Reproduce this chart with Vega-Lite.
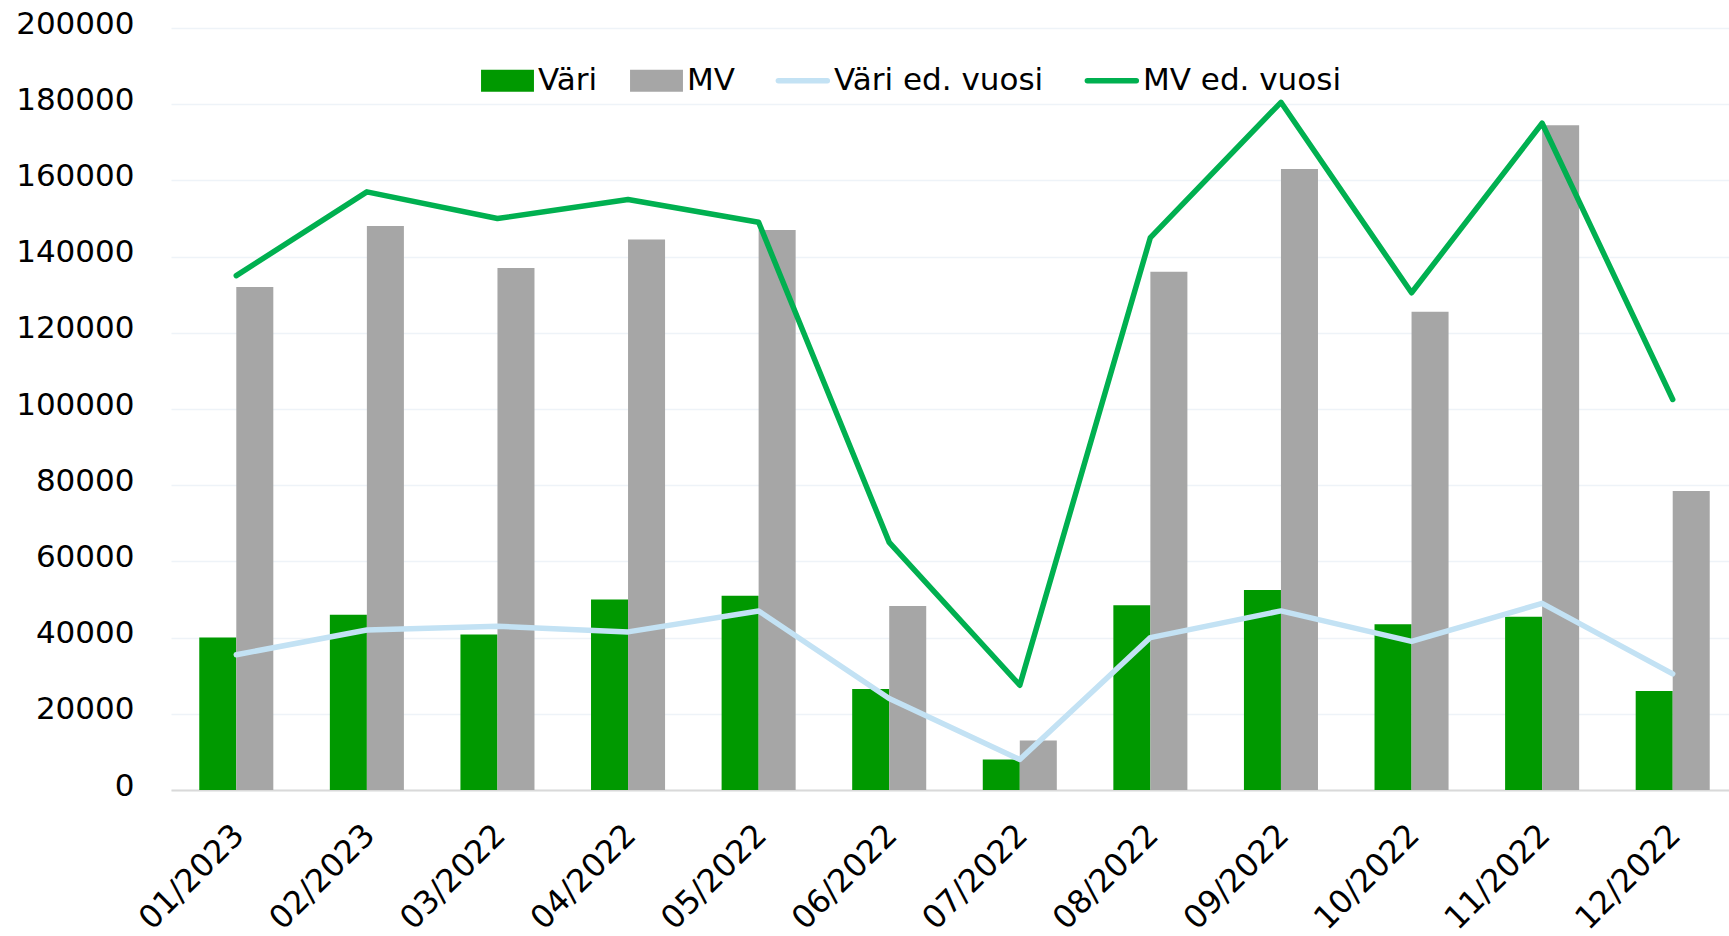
{
  "$schema": "https://vega.github.io/schema/vega-lite/v6.json",
  "autosize": {"type": "none"},
  "width": 1558,
  "height": 762,
  "padding": {"left": 171, "top": 28, "right": 0, "bottom": 146},
  "background": "white",
  "config": {"font": "DejaVu Sans", "view": {"stroke": null}},
  "data": {"values": [
    {"month": "01/2023", "series": "Väri", "value": 40000},
    {"month": "02/2023", "series": "Väri", "value": 46000},
    {"month": "03/2022", "series": "Väri", "value": 40800},
    {"month": "04/2022", "series": "Väri", "value": 50000},
    {"month": "05/2022", "series": "Väri", "value": 51000},
    {"month": "06/2022", "series": "Väri", "value": 26500},
    {"month": "07/2022", "series": "Väri", "value": 8000},
    {"month": "08/2022", "series": "Väri", "value": 48500},
    {"month": "09/2022", "series": "Väri", "value": 52500},
    {"month": "10/2022", "series": "Väri", "value": 43500},
    {"month": "11/2022", "series": "Väri", "value": 45500},
    {"month": "12/2022", "series": "Väri", "value": 26000},
    {"month": "01/2023", "series": "MV", "value": 132000},
    {"month": "02/2023", "series": "MV", "value": 148000},
    {"month": "03/2022", "series": "MV", "value": 137000},
    {"month": "04/2022", "series": "MV", "value": 144500},
    {"month": "05/2022", "series": "MV", "value": 147000},
    {"month": "06/2022", "series": "MV", "value": 48300},
    {"month": "07/2022", "series": "MV", "value": 13000},
    {"month": "08/2022", "series": "MV", "value": 136000},
    {"month": "09/2022", "series": "MV", "value": 163000},
    {"month": "10/2022", "series": "MV", "value": 125500},
    {"month": "11/2022", "series": "MV", "value": 174500},
    {"month": "12/2022", "series": "MV", "value": 78500},
    {"month": "01/2023", "series": "Väri ed. vuosi", "value": 35500},
    {"month": "02/2023", "series": "Väri ed. vuosi", "value": 42000},
    {"month": "03/2022", "series": "Väri ed. vuosi", "value": 43000},
    {"month": "04/2022", "series": "Väri ed. vuosi", "value": 41500},
    {"month": "05/2022", "series": "Väri ed. vuosi", "value": 47000},
    {"month": "06/2022", "series": "Väri ed. vuosi", "value": 24000},
    {"month": "07/2022", "series": "Väri ed. vuosi", "value": 8000},
    {"month": "08/2022", "series": "Väri ed. vuosi", "value": 40000},
    {"month": "09/2022", "series": "Väri ed. vuosi", "value": 47000},
    {"month": "10/2022", "series": "Väri ed. vuosi", "value": 39000},
    {"month": "11/2022", "series": "Väri ed. vuosi", "value": 49000},
    {"month": "12/2022", "series": "Väri ed. vuosi", "value": 30500},
    {"month": "01/2023", "series": "MV ed. vuosi", "value": 135000},
    {"month": "02/2023", "series": "MV ed. vuosi", "value": 157000},
    {"month": "03/2022", "series": "MV ed. vuosi", "value": 150000},
    {"month": "04/2022", "series": "MV ed. vuosi", "value": 155000},
    {"month": "05/2022", "series": "MV ed. vuosi", "value": 149000},
    {"month": "06/2022", "series": "MV ed. vuosi", "value": 65000},
    {"month": "07/2022", "series": "MV ed. vuosi", "value": 27500},
    {"month": "08/2022", "series": "MV ed. vuosi", "value": 145000},
    {"month": "09/2022", "series": "MV ed. vuosi", "value": 180500},
    {"month": "10/2022", "series": "MV ed. vuosi", "value": 130500},
    {"month": "11/2022", "series": "MV ed. vuosi", "value": 175000},
    {"month": "12/2022", "series": "MV ed. vuosi", "value": 102500}
  ]},
  "encoding": {
    "x": {
      "field": "month", "type": "nominal", "sort": null,
      "scale": {"range": [0, 1567], "paddingInner": 0.433, "paddingOuter": 0.2165},
      "axis": {"title": null, "labelAngle": -45, "labelFontSize": 32, "labelColor": "black", "ticks": false, "domain": true, "domainColor": "#d9d9d9", "domainWidth": 2, "labelPadding": 29, "labelOffset": -8, "grid": false}
    },
    "y": {
      "field": "value", "type": "quantitative",
      "scale": {"domain": [0, 200000], "nice": false},
      "axis": {"title": null, "values": [0, 20000, 40000, 60000, 80000, 100000, 120000, 140000, 160000, 180000, 200000], "format": "d", "labelFontSize": 31, "labelColor": "black", "ticks": false, "domain": false, "gridColor": "#eef3f8", "gridWidth": 1.5, "labelPadding": 37, "labelOffset": -4}
    },
    "color": {
      "field": "series", "type": "nominal",
      "scale": {"domain": ["Väri", "MV", "Väri ed. vuosi", "MV ed. vuosi"], "range": ["#009900", "#a6a6a6", "#c3e2f4", "#00b050"]},
      "legend": {
        "title": null, "orient": "none", "legendX": 321, "legendY": 37, "direction": "horizontal",
        "labelFontSize": 31, "labelFont": "DejaVu Sans", "labelColor": "black", "labelLimit": 0,
        "symbolSize": 2800, "labelOffset": 15, "columnPadding": 32, "padding": 0,
        "encode": {"symbols": {"update": {
          "shape": {"signal": "(datum.value === 'Väri' || datum.value === 'MV') ? 'M-1,-0.42H1V0.42H-1Z' : 'M-0.95,0H0.9'"},
          "fill": {"signal": "(datum.value === 'Väri' || datum.value === 'MV') ? scale('color', datum.value) : 'transparent'"},
          "stroke": {"signal": "scale('color', datum.value)"},
          "strokeWidth": {"signal": "(datum.value === 'Väri' || datum.value === 'MV') ? 0 : 5.5"},
          "strokeCap": {"value": "round"},
          "opacity": {"value": 1}
        }}}
      }
    }
  },
  "layer": [
    {
      "transform": [{"filter": {"field": "series", "oneOf": ["Väri", "MV"]}}],
      "mark": {"type": "bar"},
      "encoding": {"xOffset": {"field": "series", "type": "nominal", "sort": ["Väri", "MV"]}}
    },
    {
      "transform": [{"filter": {"field": "series", "oneOf": ["Väri ed. vuosi", "MV ed. vuosi"]}}],
      "mark": {"type": "line", "strokeWidth": 5.5, "strokeJoin": "round", "strokeCap": "round"}
    }
  ]
}
